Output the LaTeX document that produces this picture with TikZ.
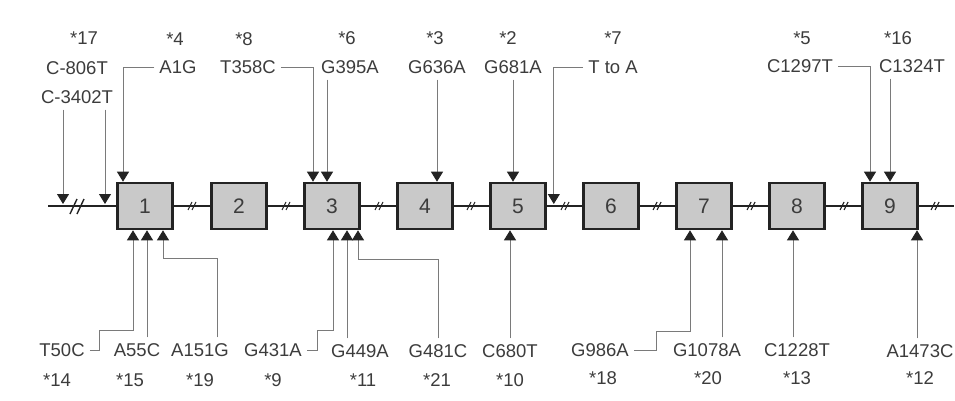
\documentclass[tikz,border=0pt]{standalone}
\usepackage{fontspec}
\setmainfont{Liberation Sans}
\usepackage{xcolor}
\usepackage{tikz}
\usetikzlibrary{arrows.meta,calc}
\definecolor{ink}{HTML}{232323}
\definecolor{pen}{HTML}{3C3C3C}
\definecolor{wire}{HTML}{7A7A7A}
\definecolor{boxfill}{HTML}{C9C9C9}
\tikzset{
  every node/.style={font=\fontsize{18.5}{20}\selectfont,text=pen},
  exon/.style={draw=ink,line width=2.6pt,fill=boxfill,minimum width=55pt,minimum height=46pt,inner sep=0pt,font=\fontsize{21}{22}\selectfont},
  lbl/.style={inner xsep=5pt,inner ysep=6pt},
  star/.style={inner sep=2pt},
  snp/.style={-{Triangle[width=12pt,length=10pt,color=ink]},draw=wire,line width=0.9pt},
  backbone/.style={draw=ink,line width=2.8pt},
  brk/.style={draw=ink,line width=1.1pt}
}

\begin{document}
\begin{tikzpicture}[x=1pt,y=-1pt]
  \useasboundingbox (0,0) rectangle (955,401);

  % backbone with breaks
  \coordinate (lineL) at (48,206);
  \coordinate (lineR) at (954,206);
  \draw[backbone] (lineL) -- (lineR);
  \foreach \bx in {192,286,379,471,565,657,751,844,935}{
    \draw[brk] (\bx-4,210) -- (\bx,202);
    \draw[brk] (\bx,210) -- (\bx+4,202);
  }
  \draw[brk,line width=1.4pt] (70,214) -- (77,199);
  \draw[brk,line width=1.4pt] (77,214) -- (84,199);

  % exons
  \node[exon] (b1) at (145,206) {1};
  \node[exon] (b2) at (239,206) {2};
  \node[exon] (b3) at (332,206) {3};
  \node[exon] (b4) at (425,206) {4};
  \node[exon] (b5) at (518,206) {5};
  \node[exon] (b6) at (611,206) {6};
  \node[exon] (b7) at (704,206) {7};
  \node[exon] (b8) at (797,206) {8};
  \node[exon] (b9) at (890,206) {9};

  % upper labels
  \node[star] (s17) at (84,38) {*17};
  \node[lbl] (c806) at (77,68) {C-806T};
  \node[lbl] (c3402) at (77,97) {C-3402T};
  \node[star] (s4) at (175,39) {*4};
  \node[lbl] (a1g) at (178,67) {A1G};
  \node[star] (s8) at (244,39) {*8};
  \node[lbl] (t358) at (248,67) {T358C};
  \node[star] (s6) at (347,38) {*6};
  \node[lbl] (g395) at (350,67) {G395A};
  \node[star] (s3) at (435,38) {*3};
  \node[lbl] (g636) at (437,67) {G636A};
  \node[star] (s2) at (508,38) {*2};
  \node[lbl] (g681) at (513,67) {G681A};
  \node[star] (s7) at (613,38) {*7};
  \node[lbl] (tta) at (613,67) {T to A};
  \node[star] (s5) at (802,38) {*5};
  \node[lbl] (c1297) at (800,66) {C1297T};
  \node[star] (s16) at (898,38) {*16};
  \node[lbl] (c1324) at (912,66) {C1324T};

  % lower labels
  \node[lbl] (t50c) at (62,350) {T50C};
  \node[star] (s14) at (57,380) {*14};
  \node[lbl] (a55c) at (137,350) {A55C};
  \node[star] (s15) at (130,380) {*15};
  \node[lbl] (a151) at (200,350) {A151G};
  \node[star] (s19) at (200,380) {*19};
  \node[lbl] (g431) at (273,350) {G431A};
  \node[star] (s9) at (273,380) {*9};
  \node[lbl] (g449) at (360,351) {G449A};
  \node[star] (s11) at (363,380) {*11};
  \node[lbl] (g481) at (438,351) {G481C};
  \node[star] (s21) at (437,380) {*21};
  \node[lbl] (c680) at (510,351) {C680T};
  \node[star] (s10) at (510,380) {*10};
  \node[lbl] (g986) at (600,350) {G986A};
  \node[star] (s18) at (603,378) {*18};
  \node[lbl] (g1078) at (707,350) {G1078A};
  \node[star] (s20) at (708,378) {*20};
  \node[lbl] (c1228) at (797,350) {C1228T};
  \node[star] (s13) at (797,378) {*13};
  \node[lbl] (a1473) at (920,351) {A1473C};
  \node[star] (s12) at (920,378) {*12};

  % arrow tips
  \coordinate (p1) at (63,204);
  \coordinate (p2) at (105,204);
  \coordinate (q3) at ([xshift=-5pt]b3.north);
  \coordinate (q4) at ([xshift=12pt]b4.north);
  \coordinate (q5) at ([xshift=-5pt]b5.north);
  \coordinate (p7) at ([xshift=7pt,yshift=2pt]b5.east);
  \coordinate (r1a) at ([xshift=-12pt]b1.south);
  \coordinate (r1b) at ([xshift=2pt]b1.south);
  \coordinate (r1c) at ([xshift=18pt]b1.south);
  \coordinate (r3a) at ([xshift=1pt]b3.south);
  \coordinate (r3b) at ([xshift=15pt]b3.south);
  \coordinate (r3c) at ([xshift=26pt]b3.south);
  \coordinate (r5) at ([xshift=-8pt]b5.south);
  \coordinate (r7a) at ([xshift=-14pt]b7.south);
  \coordinate (r7b) at ([xshift=18pt]b7.south);
  \coordinate (r8) at ([xshift=-4pt]b8.south);
  \coordinate (r9) at ([xshift=27pt]b9.south);

  % variants from above
  \draw[snp] (c3402.south -| p1) -- (p1);
  \draw[snp] (c3402.south -| p2) -- (p2);
  \draw[snp] (a1g.west) -| ([xshift=-22pt]b1.north);
  \draw[snp] (t358.east) -| ([xshift=-19pt]b3.north);
  \draw[snp] (g395.south -| q3) -- (q3);
  \draw[snp] (g636.south -| q4) -- (q4);
  \draw[snp] (g681.south -| q5) -- (q5);
  \draw[snp] (tta.west) -| (p7);
  \draw[snp] (c1297.east) -| ([xshift=-20pt]b9.north);
  \draw[snp] (c1324.south -| b9.north) -- (b9.north);

  % variants from below
  \draw[snp] (t50c.east) -- ++(10,0) |- ([yshift=-100pt]r1a) -- (r1a);
  \draw[snp] (a55c.north -| r1b) -- (r1b);
  \draw[snp] ([xshift=17pt]a151.north) |- ([yshift=-28pt]r1c) -- (r1c);
  \draw[snp] (g431.east) -- ++(10,0) |- ([yshift=-100pt]r3a) -- (r3a);
  \draw[snp] (g449.north -| r3b) -- (r3b);
  \draw[snp] (g481.north) |- ([yshift=-29pt]r3c) -- (r3c);
  \draw[snp] (c680.north -| r5) -- (r5);
  \draw[snp] (g986.east) -- ++(22,0) |- ([yshift=-101pt]r7a) -- (r7a);
  \draw[snp] (g1078.north -| r7b) -- (r7b);
  \draw[snp] (c1228.north -| r8) -- (r8);
  \draw[snp] (a1473.north -| r9) -- (r9);
\end{tikzpicture}
\end{document}
